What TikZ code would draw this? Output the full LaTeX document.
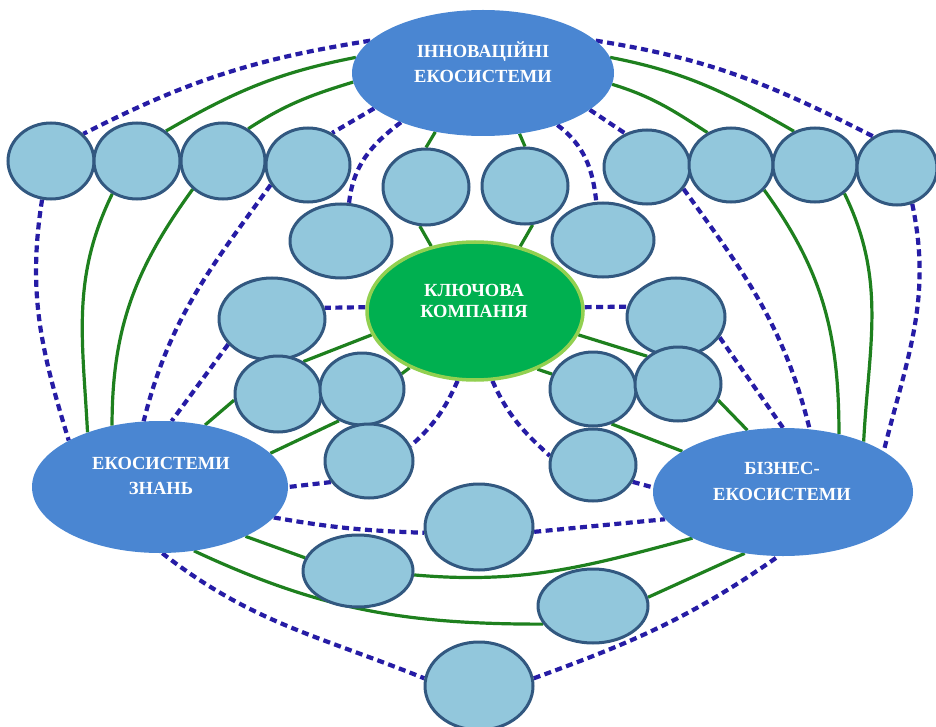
\documentclass[tikz,border=0pt]{standalone}
\usepackage{fontspec}
\setmainfont{Liberation Serif}
\usetikzlibrary{shapes.geometric,backgrounds}
\definecolor{bigblue}{RGB}{74,134,210}
\definecolor{smallfill}{RGB}{146,199,220}
\definecolor{smalledge}{RGB}{50,88,128}
\definecolor{keyfill}{RGB}{0,176,80}
\definecolor{keyedge}{RGB}{146,208,80}
\definecolor{glink}{RGB}{30,128,30}
\definecolor{dlink}{RGB}{38,28,165}
\tikzset{
  big/.style={ellipse,fill=bigblue,inner sep=0pt},
  sm/.style={ellipse,draw=smalledge,fill=smallfill,line width=3pt,inner sep=0pt},
  key/.style={ellipse,draw=keyedge,fill=keyfill,line width=3.5pt,inner sep=0pt},
  lbl/.style={text=white,font=\bfseries\fontsize{18.5}{22}\selectfont,anchor=base,inner sep=0pt},
  gl/.style={draw=glink,line width=3.2pt},
  dl/.style={draw=dlink,line width=4.2pt,dash pattern=on 7pt off 4.5pt}
}
\begin{document}
\begin{tikzpicture}[x=1pt,y=1pt]
\useasboundingbox (0,0) rectangle (936,-727);

% main ellipses
\node[big,minimum width=262pt,minimum height=126pt] (innov) at (483,-73) {};
\node[big,minimum width=256pt,minimum height=132pt] (znan) at (160,-487) {};
\node[big,minimum width=260pt,minimum height=128pt] (biz) at (783,-492) {};
\node[key,minimum width=216pt,minimum height=138pt] (klyuch) at (475,-311) {};

% small circles
\node[sm,minimum width=86pt,minimum height=76pt] (c1) at (51,-161) {};
\node[sm,minimum width=86pt,minimum height=76pt] (c2) at (137,-161) {};
\node[sm,minimum width=84pt,minimum height=76pt] (c3) at (223,-161) {};
\node[sm,minimum width=84pt,minimum height=74pt] (c4) at (308,-165) {};
\node[sm,minimum width=86pt,minimum height=76pt] (c5) at (426,-187) {};
\node[sm,minimum width=86pt,minimum height=76pt] (c6) at (525,-186) {};
\node[sm,minimum width=102pt,minimum height=74pt] (c7) at (341,-241) {};
\node[sm,minimum width=102pt,minimum height=74pt] (c8) at (603,-240) {};
\node[sm,minimum width=86pt,minimum height=74pt] (c9) at (647,-167) {};
\node[sm,minimum width=84pt,minimum height=74pt] (c10) at (731,-165) {};
\node[sm,minimum width=84pt,minimum height=74pt] (c11) at (815,-165) {};
\node[sm,minimum width=80pt,minimum height=74pt] (c12) at (897,-168) {};
\node[sm,minimum width=106pt,minimum height=82pt] (c13) at (272,-319) {};
\node[sm,minimum width=86pt,minimum height=76pt] (c14) at (278,-394) {};
\node[sm,minimum width=84pt,minimum height=72pt] (c15) at (362,-389) {};
\node[sm,minimum width=88pt,minimum height=74pt] (c16) at (369,-461) {};
\node[sm,minimum width=98pt,minimum height=78pt] (c17) at (676,-317) {};
\node[sm,minimum width=86pt,minimum height=74pt] (c18) at (593,-389) {};
\node[sm,minimum width=86pt,minimum height=74pt] (c19) at (678,-384) {};
\node[sm,minimum width=86pt,minimum height=72pt] (c20) at (593,-465) {};
\node[sm,minimum width=108pt,minimum height=86pt] (c21) at (479,-527) {};
\node[sm,minimum width=110pt,minimum height=72pt] (c22) at (358,-571) {};
\node[sm,minimum width=110pt,minimum height=74pt] (c23) at (593,-606) {};
\node[sm,minimum width=108pt,minimum height=88pt] (c24) at (479,-686) {};

% labels
\node[lbl] (innovA) at (483,-58) {ІННОВАЦІЙНІ};
\node[lbl] (innovB) at (483,-83) {ЕКОСИСТЕМИ};
\node[lbl] (znanA) at (161,-469) {ЕКОСИСТЕМИ};
\node[lbl] (znanB) at (161,-494) {ЗНАНЬ};
\node[lbl] (bizA) at (782,-474) {БІЗНЕС-};
\node[lbl] (bizB) at (782,-500) {ЕКОСИСТЕМИ};
\node[lbl] (keyA) at (474,-296) {КЛЮЧОВА};
\node[lbl] (keyB) at (474,-317) {КОМПАНІЯ};

\begin{scope}[on background layer]
\fill[white] (0,0) rectangle (936,-727);
% from innovation ecosystems
\draw[dl] (innov.164) to[out=189,in=27] (c1.40);
\draw[gl] (innov.173) to[out=191,in=30] (c2.46);
\draw[gl] (innov.184) to[out=197,in=33] (c3.52);
\draw[dl] (innov.198) -- (c4.53);
\draw[dl] (innov.211) to[out=217,in=84] (c7.78);
\draw[gl] (innov.231) -- (c5.90);
\draw[gl] (innov.301) -- (c6.90);
\draw[dl] (innov.325) to[out=323,in=96] (c8.100);
\draw[dl] (innov.341) -- (c9.123);
\draw[gl] (innov.355) to[out=343,in=147] (c10.126);
\draw[gl] (innov.7) to[out=349,in=150] (c11.122);
\draw[dl] (innov.16) to[out=351,in=153] (c12.127);
% to knowledge ecosystems
\draw[dl] (c1.257) to[out=261,in=107] (znan.153);
\draw[gl] (c2.233) to[out=244,in=93] (znan.143);
\draw[gl] (c3.223) to[out=234,in=90] (znan.128);
\draw[dl] (c4.208) to[out=234,in=76] (znan.104);
\draw[dl] (c13.210) -- (znan.80);
\draw[gl] (c14.188) -- (znan.54);
\draw[gl] (c15.234) -- (znan.17);
\draw[dl] (c16.209) -- (znan.0);
% to business ecosystems
\draw[dl] (c12.293) to[out=282,in=76] (biz.22);
\draw[gl] (c11.316) to[out=296,in=87] (biz.32);
\draw[gl] (c10.323) to[out=306,in=90] (biz.46);
\draw[dl] (c9.329) to[out=306,in=104] (biz.67);
\draw[dl] (c17.335) -- (biz.90);
\draw[gl] (c19.338) -- (biz.120);
\draw[gl] (c18.298) -- (biz.158);
\draw[dl] (c20.337) -- (biz.178);
% key company
\draw[gl] (c5.261) -- (klyuch.124);
\draw[gl] (c6.281) -- (klyuch.55);
\draw[dl] (klyuch.178) -- (c13.12);
\draw[dl] (klyuch.2) -- (c17.168);
\draw[gl] (klyuch.193) -- (c14.52);
\draw[gl] (klyuch.221) -- (c15.21);
\draw[dl] (klyuch.256) to[out=246,in=42] (c16.20);
\draw[dl] (klyuch.284) to[out=294,in=138] (c20.168);
\draw[gl] (klyuch.347) -- (c19.138);
\draw[gl] (klyuch.317) -- (c18.160);
% bottom
\draw[dl] (znan.345) to[out=350,in=178] (c21.186);
\draw[dl] (c21.355) -- (biz.193);
\draw[gl] (znan.330) -- (c22.166);
\draw[gl] (c22.356) to[out=355,in=195] (biz.207);
\draw[gl] (znan.298) to[out=335,in=180] (c23.200);
\draw[gl] (c23.9) -- (biz.238);
\draw[dl] (znan.272) to[out=322,in=158] (c24.172);
\draw[dl] (c24.8) to[out=20,in=215] (biz.266);
\end{scope}
\end{tikzpicture}
\end{document}
